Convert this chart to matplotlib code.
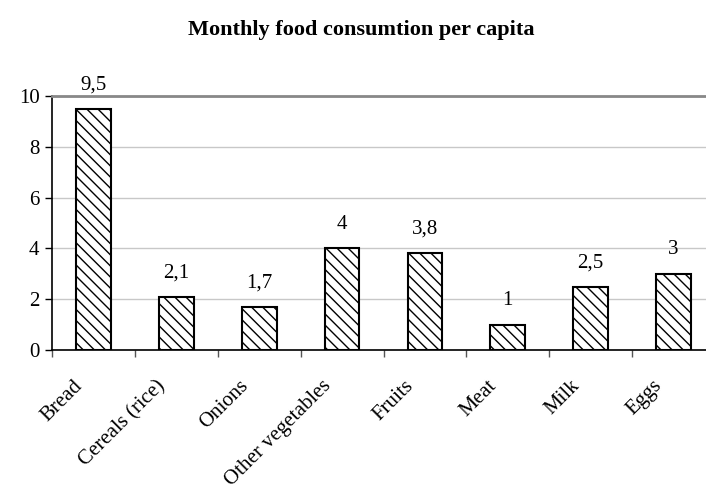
import matplotlib.pyplot as plt
import matplotlib.transforms as mtransforms
import numpy as np

categories = ['Bread', 'Cereals (rice)', 'Onions', 'Other vegetables',
              'Fruits', 'Meat', 'Milk', 'Eggs']
values = [9.5, 2.1, 1.7, 4, 3.8, 1, 2.5, 3]
value_labels = ['9,5', '2,1', '1,7', '4', '3,8', '1', '2,5', '3']
y_ticks = [0, 2, 4, 6, 8, 10]

plt.rcParams['font.family'] = ['Liberation Serif', 'DejaVu Serif']
plt.rcParams['hatch.linewidth'] = 1.0
plt.rcParams['hatch.color'] = '#2a2a2a'

fig = plt.figure(figsize=(7.06, 4.9), dpi=100)
# plot area runs a little past the right edge, as in the reference
ax = fig.add_axes([52 / 706, 140 / 490, 663 / 706, 254 / 490])

x = np.arange(len(categories))
bars = ax.bar(x, values, width=0.42, color='white', edgecolor='black',
              linewidth=1.5, hatch='\\\\\\', zorder=3)

for b, lab in zip(bars, value_labels):
    ax.annotate(lab, (b.get_x() + b.get_width() / 2, b.get_height()),
                xytext=(0, 14), textcoords='offset points',
                ha='center', va='baseline', fontsize=15)

ax.set_xlim(-0.5, len(categories) - 0.5)
ax.set_ylim(0, 10)
ax.set_yticks(y_ticks)
ax.set_yticklabels([str(v) for v in y_ticks], fontsize=15)

# category labels: rotated, right end a bit left of the category centre
ax.set_xticks(x)
ax.set_xticklabels([])
lbl_trans = ax.get_xaxis_transform() + mtransforms.ScaledTranslation(
    -0.14, -0.33, fig.dpi_scale_trans)
for i, cat in zip(x, categories):
    ax.text(i, 0, cat, transform=lbl_trans, fontsize=15, rotation=45,
            ha='right', va='center', rotation_mode='anchor', clip_on=False)

ax.set_xticks(np.arange(len(categories) + 1) - 0.5, minor=True)
ax.tick_params(axis='x', which='major', length=0)
ax.tick_params(axis='x', which='minor', length=5, width=1, direction='out',
               color='#555555')
ax.tick_params(axis='y', length=5, width=1, direction='out', pad=4)

ax.yaxis.grid(True, color='#c8c8c8', linewidth=1, zorder=0)
ax.set_axisbelow(True)

ax.spines['right'].set_visible(False)
ax.spines['top'].set_color('#888888')
ax.spines['top'].set_linewidth(2)
ax.spines['left'].set_linewidth(1.2)
ax.spines['bottom'].set_linewidth(1.2)

fig.text(361 / 706, 1 - 35 / 490, 'Monthly food consumtion per capita',
         ha='center', va='baseline', fontsize=16, fontweight='bold')

fig.savefig('out.png', dpi=100)
